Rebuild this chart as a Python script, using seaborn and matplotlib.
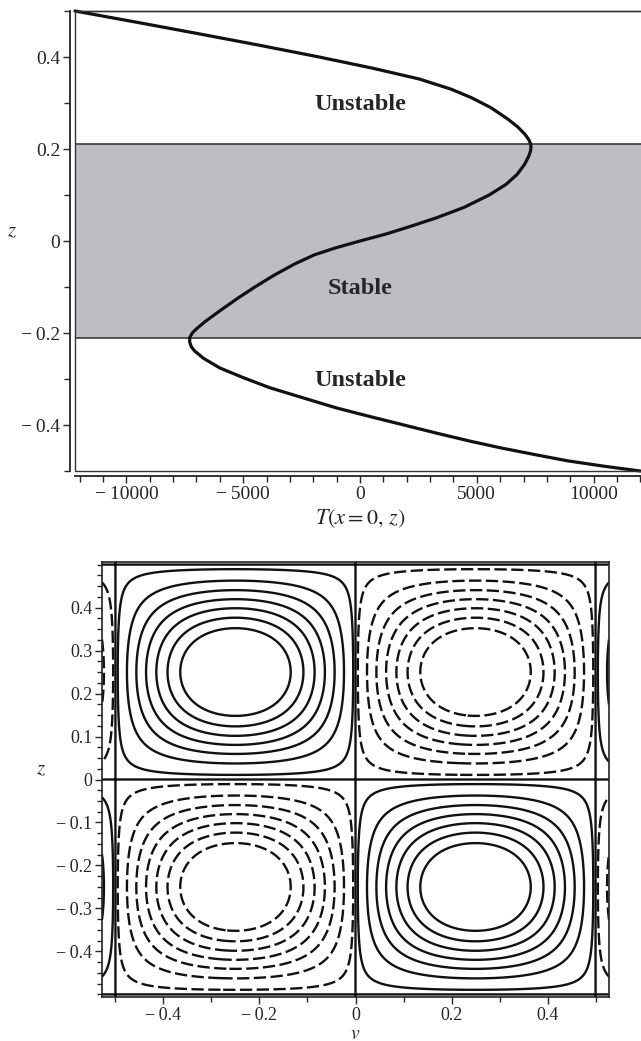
#!/usr/bin/env python3
"""Temperature profile with stable band (top) and cell stream function contours (bottom)."""
import numpy as np
import matplotlib
matplotlib.use('Agg')
import matplotlib.pyplot as plt
import seaborn as sns
from matplotlib.patches import Rectangle
from matplotlib.ticker import MultipleLocator, FixedLocator, FuncFormatter

# --- top panel: T(x=0, z) ---------------------------------------------------
z_profile = [0.500, 0.475, 0.450, 0.425, 0.400, 0.375, 0.352, 0.330, 0.312,
             0.290, 0.265, 0.248, 0.232, 0.220, 0.212, 0.204, 0.196, 0.185,
             0.167, 0.145, 0.123, 0.100, 0.073, 0.050, 0.030, 0.015, 0.000,
             -0.015, -0.030, -0.050, -0.075, -0.100, -0.125, -0.150, -0.174,
             -0.190, -0.200, -0.210, -0.220, -0.230, -0.239, -0.255, -0.276,
             -0.297, -0.319, -0.340, -0.363, -0.380, -0.399, -0.418, -0.435,
             -0.450, -0.464, -0.478, -0.490, -0.500]
T_profile = [-12200, -9500, -6850, -4250, -1750, 600, 2550, 3900, 4750,
             5600, 6330, 6750, 7060, 7230, 7300, 7320, 7300, 7230,
             7050, 6730, 6250, 5530, 4450, 3250, 2050, 1100, 0,
             -1050, -1950, -2800, -3700, -4500, -5250, -5950, -6600,
             -6980, -7180, -7290, -7290, -7220, -7080, -6700, -6000,
             -5000, -3860, -2500, -1000, 300, 1800, 3300, 4700,
             6050, 7450, 8900, 10500, 12000]
stable_lo, stable_hi = -0.21, 0.21
region_names = ["Unstable", "Stable", "Unstable"]

# --- bottom panel: contour levels of the four-cell stream function ------------
psi_levels = [0.0, 0.03, 0.15, 0.27, 0.39, 0.51, 0.63, 0.75]
z_ticks = [-0.4, -0.3, -0.2, -0.1, 0.0, 0.1, 0.2, 0.3, 0.4]

sns.set_style('ticks')
plt.rcParams['font.family'] = ['Liberation Serif', 'DejaVu Serif']
plt.rcParams['mathtext.fontset'] = 'stix'


def signed(fmt):
    def f(val, pos):
        if abs(val) < 1e-9:
            return '0'
        s = fmt % abs(val)
        return ('\u2212\u2009' + s) if val < 0 else s
    return FuncFormatter(f)


fig = plt.figure(figsize=(6.41, 10.41), dpi=100)

# ---------------- top ----------------
ax = fig.add_axes([75 / 641, 1 - 471 / 1041, 570 / 641, 460 / 1041])
ax.axhspan(stable_lo, stable_hi, color='#bdbec2', lw=0, zorder=0)
for zz in (stable_lo, stable_hi):
    ax.axhline(zz, color='#3a3a3a', lw=1.2, zorder=1)
sns.lineplot(x=T_profile, y=z_profile, sort=False, estimator=None,
             color='#111111', lw=2.3, ax=ax, zorder=3)
ax.lines[-1].set_clip_on(False)

ax.text(0, 0.296, region_names[0], ha='center', va='center', fontsize=17.5, fontweight='bold')
ax.text(0, -0.103, region_names[1], ha='center', va='center', fontsize=17.5, fontweight='bold')
ax.text(0, -0.303, region_names[2], ha='center', va='center', fontsize=17.5, fontweight='bold')

ax.set_xlim(-12200, 12200)
ax.set_ylim(-0.5, 0.5)
ax.xaxis.set_major_locator(MultipleLocator(5000))
ax.xaxis.set_minor_locator(MultipleLocator(1000))
ax.yaxis.set_major_locator(MultipleLocator(0.2))
ax.yaxis.set_minor_locator(MultipleLocator(0.1))
ax.xaxis.set_major_formatter(signed('%d'))
ax.yaxis.set_major_formatter(signed('%g'))
ax.tick_params(which='major', direction='out', length=5, width=1, labelsize=14, pad=2)
ax.tick_params(which='minor', direction='out', length=4, width=1)
for side in ('left', 'bottom'):
    ax.spines[side].set_position(('outward', 3.6))
    ax.spines[side].set_linewidth(1.3)
    ax.spines[side].set_color('#222222')
for side in ('top', 'right'):
    ax.spines[side].set_linewidth(1.0)
    ax.spines[side].set_color('#333333')
ax.add_patch(Rectangle((0, 0), 1, 1, transform=ax.transAxes, fill=False,
                       lw=1.0, ec='#333333', clip_on=False, zorder=5))
ax.set_xlabel(r'$T\left(x=0,\,z\right)$', fontsize=16, labelpad=3)
ax.set_ylabel('$z$', fontsize=15, rotation=0, labelpad=0)
ax.yaxis.set_label_coords(-0.11, 0.5)

# ---------------- bottom ----------------
ax2 = fig.add_axes([102 / 641, 1 - 997 / 1041, 507 / 641, 435 / 1041])
v = np.linspace(-0.528, 0.528, 600)
z = np.linspace(-0.506, 0.506, 600)
V, Z = np.meshgrid(v, z)
sz = np.sin(2 * np.pi * Z)
psi = -np.sin(2 * np.pi * V) * sz * np.abs(sz) ** 0.3

ax2.contour(V, Z, psi, levels=psi_levels, colors='#111111',
            linewidths=1.7, linestyles='solid')
ax2.contour(V, Z, psi, levels=[-l for l in psi_levels[:0:-1]], colors='#111111',
            linewidths=1.7, linestyles=[(0, (5.2, 1.9))])

ax2.set_xlim(-0.528, 0.528)
ax2.set_ylim(-0.506, 0.506)
ax2.xaxis.set_major_locator(MultipleLocator(0.2))
ax2.xaxis.set_minor_locator(MultipleLocator(0.1))
ax2.yaxis.set_major_locator(FixedLocator(z_ticks))
ax2.yaxis.set_minor_locator(MultipleLocator(0.025))
ax2.xaxis.set_major_formatter(signed('%g'))
ax2.yaxis.set_major_formatter(signed('%g'))
ax2.tick_params(which='major', direction='out', length=5, width=1, labelsize=13, pad=2)
ax2.tick_params(which='minor', direction='out', length=3.5, width=1)
for side in ax2.spines:
    ax2.spines[side].set_linewidth(1.2)
    ax2.spines[side].set_color('#222222')
ax2.set_xlabel('$v$', fontsize=14)
ax2.xaxis.set_label_coords(0.5, -0.066)
ax2.set_ylabel('$z$', fontsize=15, rotation=0, labelpad=0)
ax2.yaxis.set_label_coords(-0.12, 0.5)

fig.savefig('out.png', dpi=100)
plt.close(fig)
